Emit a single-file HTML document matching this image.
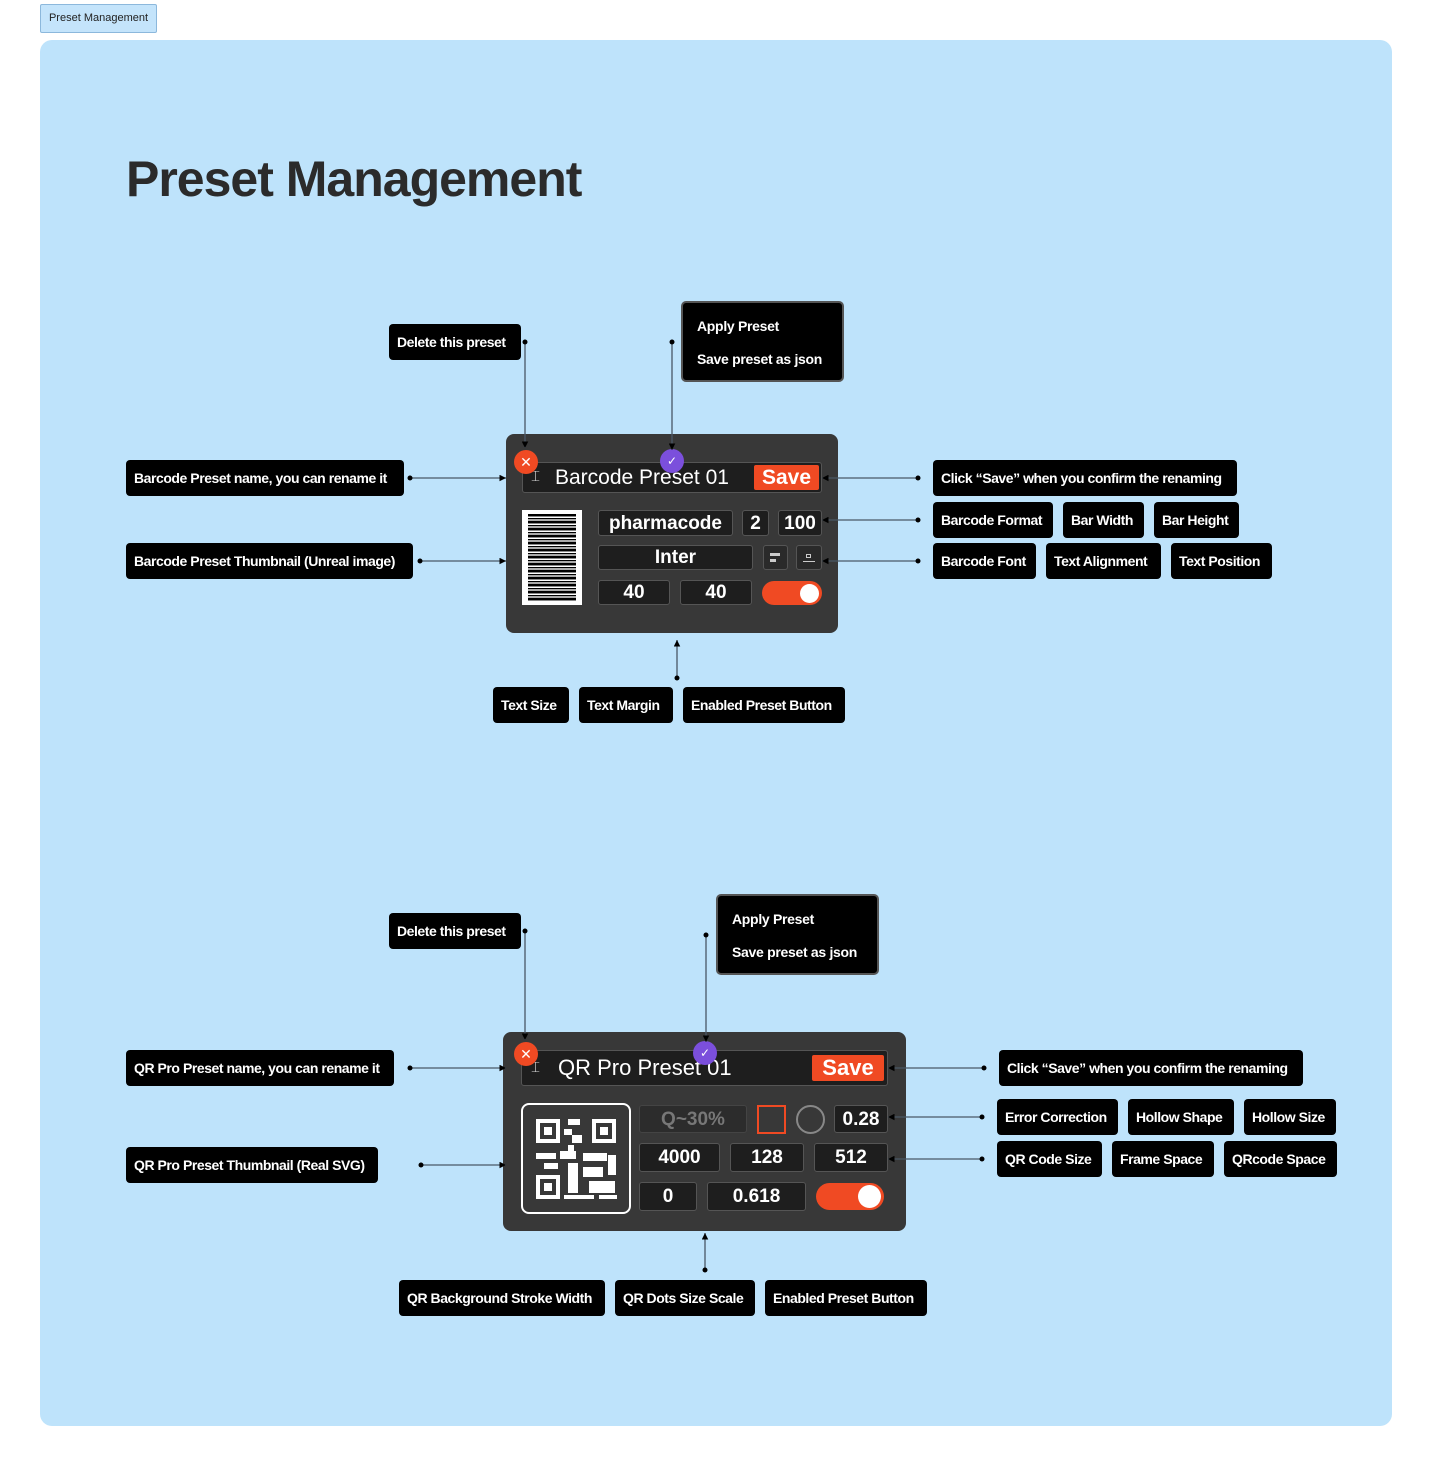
<!DOCTYPE html>
<html><head><meta charset="utf-8"><style>
*{box-sizing:border-box;margin:0;padding:0}
body{width:1432px;height:1466px;background:#fff;position:relative;font-family:"Liberation Sans",sans-serif;overflow:hidden}
.abs{position:absolute}
.lbl{position:absolute;background:#000;color:#fff;font-size:14px;font-weight:bold;border-radius:4px;height:36px;line-height:36px;padding:0 8px;white-space:nowrap;letter-spacing:-0.45px}
.apply{position:absolute;background:#000;color:#fff;font-size:14px;font-weight:bold;border-radius:5px;border:2px solid #555;padding:0 14px;line-height:33px;padding-top:7px;letter-spacing:-0.3px}
.card{position:absolute;background:#383838;border-radius:8px}
.f{position:absolute;background:#1e1e1e;border:1px solid #555;border-radius:3px;color:#fff;font-size:19px;text-align:center;font-weight:bold}
.save{position:absolute;background:#f04a23;color:#fff;font-weight:bold;text-align:center;border-radius:2px}
.tog{position:absolute;background:#f04a23;border-radius:14px}
.tog i{position:absolute;right:3px;top:3px;background:#fff;border-radius:50%}
.x{position:absolute;width:24px;height:24px;border-radius:50%;background:#f04a23;color:#fff;font-size:14px;text-align:center;line-height:24px}
.ck{position:absolute;width:24px;height:24px;border-radius:50%;background:#7b4fdc;color:#fff;font-size:12px;text-align:center;line-height:24px}
</style></head><body>
<div class="abs" style="left:40px;top:4px;width:117px;height:29px;background:#c4e4fb;border:1px solid #8cb8dc;border-radius:2px;font-size:11px;line-height:27px;text-align:center;color:#222">Preset Management</div>
<div class="abs" style="left:40px;top:40px;width:1352px;height:1386px;background:#bee3fb;border-radius:12px"></div>
<div class="abs" style="left:126px;top:150px;font-size:50px;font-weight:bold;color:#2b2b2b;letter-spacing:-1px">Preset Management</div>

<!-- Barcode card -->
<div class="card" style="left:506px;top:434px;width:332px;height:199px"></div>
<div class="f" style="left:522px;top:462px;width:300px;height:31px;text-align:left;padding-left:32px;line-height:29px;font-size:21px;font-weight:normal">Barcode Preset 01</div>
<div class="abs" style="left:531px;top:468px;color:#ddd;font-size:15px">⌶</div>
<div class="save" style="left:754px;top:465px;width:65px;height:25px;line-height:25px;font-size:21px">Save</div>
<div class="abs" style="left:522px;top:510px;width:60px;height:95px;background:#fff;padding:4px 6px">
<div style="width:100%;height:100%;background:repeating-linear-gradient(#000 0 2px,#888 2px 3px,#fff 3px 4px,#000 4px 5px,#aaa 5px 7px)"></div></div>
<div class="f" style="left:598px;top:510px;width:135px;height:26px;line-height:25px">pharmacode</div>
<div class="f" style="left:742px;top:510px;width:27px;height:26px;line-height:25px">2</div>
<div class="f" style="left:778px;top:510px;width:44px;height:26px;line-height:25px">100</div>
<div class="f" style="left:598px;top:545px;width:155px;height:25px;line-height:24px">Inter</div>
<div class="f" style="left:763px;top:545px;width:25px;height:25px;background:#2a2a2a"><div class="abs" style="left:6px;top:7px;width:10px;height:3px;background:#ccc"></div><div class="abs" style="left:6px;top:13px;width:6px;height:3px;background:#ccc"></div></div>
<div class="f" style="left:796px;top:545px;width:26px;height:25px;background:#2a2a2a"><div class="abs" style="left:9px;top:8px;width:5px;height:4px;border:1px solid #ccc"></div><div class="abs" style="left:6px;top:15px;width:12px;height:1px;background:#ccc"></div></div>
<div class="f" style="left:598px;top:580px;width:72px;height:25px;line-height:24px">40</div>
<div class="f" style="left:680px;top:580px;width:72px;height:25px;line-height:24px">40</div>
<div class="tog" style="left:762px;top:581px;width:60px;height:24px"><i style="width:19px;height:19px;top:2.5px"></i></div>
<div class="x" style="left:514px;top:450px">✕</div>
<div class="ck" style="left:660px;top:449px">✓</div>

<!-- QR card -->
<div class="card" style="left:503px;top:1032px;width:403px;height:199px"></div>
<div class="f" style="left:521px;top:1050px;width:367px;height:36px;text-align:left;padding-left:36px;line-height:34px;font-size:22px;font-weight:normal">QR Pro Preset 01</div>
<div class="abs" style="left:531px;top:1059px;color:#ddd;font-size:15px">⌶</div>
<div class="save" style="left:812px;top:1055px;width:72px;height:26px;line-height:26px;font-size:22px">Save</div>
<div class="abs" style="left:521px;top:1103px;width:110px;height:111px;border:2px solid #fff;border-radius:8px">
<svg width="106" height="107" viewBox="0 0 106 107">
<g fill="#fff">
<rect x="13" y="14" width="24" height="24"/><rect x="69" y="14" width="24" height="24"/><rect x="13" y="70" width="24" height="24"/>
</g>
<g fill="#383838"><rect x="17" y="18" width="16" height="16"/><rect x="73" y="18" width="16" height="16"/><rect x="17" y="74" width="16" height="16"/></g>
<g fill="#fff"><rect x="21" y="22" width="8" height="8"/><rect x="77" y="22" width="8" height="8"/><rect x="21" y="78" width="8" height="8"/>
<rect x="45" y="14" width="12" height="6"/><rect x="41" y="24" width="8" height="6"/><rect x="49" y="30" width="10" height="8"/><rect x="45" y="40" width="6" height="6"/>
<rect x="13" y="48" width="20" height="6"/><rect x="37" y="46" width="16" height="8"/><rect x="60" y="48" width="24" height="8"/><rect x="85" y="50" width="8" height="20"/>
<rect x="21" y="58" width="14" height="6"/><rect x="45" y="58" width="10" height="30"/><rect x="60" y="62" width="20" height="10"/><rect x="66" y="76" width="26" height="12"/>
<rect x="41" y="90" width="30" height="4"/><rect x="76" y="90" width="18" height="4"/></g>
</svg></div>
<div class="f" style="left:639px;top:1105px;width:108px;height:28px;line-height:27px;color:#777;background:#2c2c2c;border-color:#444">Q~30%</div>
<div class="abs" style="left:757px;top:1105px;width:29px;height:29px;border:2px solid #f04a23"></div>
<div class="abs" style="left:796px;top:1105px;width:29px;height:29px;border:2px solid #888;border-radius:50%"></div>
<div class="f" style="left:834px;top:1105px;width:54px;height:28px;line-height:27px">0.28</div>
<div class="f" style="left:639px;top:1143px;width:81px;height:29px;line-height:28px">4000</div>
<div class="f" style="left:730px;top:1143px;width:74px;height:29px;line-height:28px">128</div>
<div class="f" style="left:814px;top:1143px;width:74px;height:29px;line-height:28px">512</div>
<div class="f" style="left:639px;top:1182px;width:58px;height:29px;line-height:28px">0</div>
<div class="f" style="left:707px;top:1182px;width:99px;height:29px;line-height:28px">0.618</div>
<div class="tog" style="left:816px;top:1183px;width:68px;height:27px"><i style="width:23px;height:23px;top:2px"></i></div>
<div class="x" style="left:514px;top:1042px">✕</div>
<div class="ck" style="left:693px;top:1041px">✓</div>

<!-- connectors -->
<svg class="abs" style="left:0;top:0" width="1432" height="1466">
<defs><marker id="a" viewBox="0 0 8 8" refX="8" refY="4" markerWidth="5" markerHeight="5" orient="auto"><path d="M0,0L8,4L0,8z" fill="#000"/></marker></defs>
<g stroke="#4a5866" stroke-width="1.3" fill="none" marker-end="url(#a)">
<path d="M525,342V448"/><path d="M672,342V450"/><path d="M410,478H506"/><path d="M420,561H506"/>
<path d="M918,478H822"/><path d="M918,520H822"/><path d="M918,561H822"/><path d="M677,678V640"/>
<path d="M525,931V1040"/><path d="M706,935V1042"/><path d="M410,1068H506"/><path d="M421,1165H506"/>
<path d="M984,1068H888"/><path d="M982,1117H888"/><path d="M982,1159H888"/><path d="M705,1270V1233"/>
</g>
<g fill="#000">
<circle cx="525" cy="342" r="2.5"/><circle cx="672" cy="342" r="2.5"/><circle cx="410" cy="478" r="2.5"/><circle cx="420" cy="561" r="2.5"/>
<circle cx="918" cy="478" r="2.5"/><circle cx="918" cy="520" r="2.5"/><circle cx="918" cy="561" r="2.5"/><circle cx="677" cy="678" r="2.5"/>
<circle cx="525" cy="931" r="2.5"/><circle cx="706" cy="935" r="2.5"/><circle cx="410" cy="1068" r="2.5"/><circle cx="421" cy="1165" r="2.5"/>
<circle cx="984" cy="1068" r="2.5"/><circle cx="982" cy="1117" r="2.5"/><circle cx="982" cy="1159" r="2.5"/><circle cx="705" cy="1270" r="2.5"/>
</g></svg>

<!-- labels -->
<div class="lbl" style="left:389px;top:324px;width:132px">Delete this preset</div>
<div class="apply" style="left:681px;top:301px;width:163px;height:81px">Apply Preset<br>Save preset as json</div>
<div class="lbl" style="left:126px;top:460px;width:278px">Barcode Preset name, you can rename it</div>
<div class="lbl" style="left:126px;top:543px;width:287px">Barcode Preset Thumbnail (Unreal image)</div>
<div class="lbl" style="left:933px;top:460px;width:304px">Click “Save” when you confirm the renaming</div>
<div class="lbl" style="left:933px;top:502px;width:120px">Barcode Format</div>
<div class="lbl" style="left:1063px;top:502px;width:81px">Bar Width</div>
<div class="lbl" style="left:1154px;top:502px;width:85px">Bar Height</div>
<div class="lbl" style="left:933px;top:543px;width:103px">Barcode Font</div>
<div class="lbl" style="left:1046px;top:543px;width:115px">Text Alignment</div>
<div class="lbl" style="left:1171px;top:543px;width:101px">Text Position</div>
<div class="lbl" style="left:493px;top:687px;width:76px">Text Size</div>
<div class="lbl" style="left:579px;top:687px;width:94px">Text Margin</div>
<div class="lbl" style="left:683px;top:687px;width:162px">Enabled Preset Button</div>

<div class="lbl" style="left:389px;top:913px;width:132px">Delete this preset</div>
<div class="apply" style="left:716px;top:894px;width:163px;height:81px">Apply Preset<br>Save preset as json</div>
<div class="lbl" style="left:126px;top:1050px;width:268px">QR Pro Preset name, you can rename it</div>
<div class="lbl" style="left:126px;top:1147px;width:252px">QR Pro Preset Thumbnail (Real SVG)</div>
<div class="lbl" style="left:999px;top:1050px;width:304px">Click “Save” when you confirm the renaming</div>
<div class="lbl" style="left:997px;top:1099px;width:121px">Error Correction</div>
<div class="lbl" style="left:1128px;top:1099px;width:106px">Hollow Shape</div>
<div class="lbl" style="left:1244px;top:1099px;width:92px">Hollow Size</div>
<div class="lbl" style="left:997px;top:1141px;width:105px">QR Code Size</div>
<div class="lbl" style="left:1112px;top:1141px;width:102px">Frame Space</div>
<div class="lbl" style="left:1224px;top:1141px;width:113px">QRcode Space</div>
<div class="lbl" style="left:399px;top:1280px;width:206px">QR Background Stroke Width</div>
<div class="lbl" style="left:615px;top:1280px;width:140px">QR Dots Size Scale</div>
<div class="lbl" style="left:765px;top:1280px;width:162px">Enabled Preset Button</div>
</body></html>
